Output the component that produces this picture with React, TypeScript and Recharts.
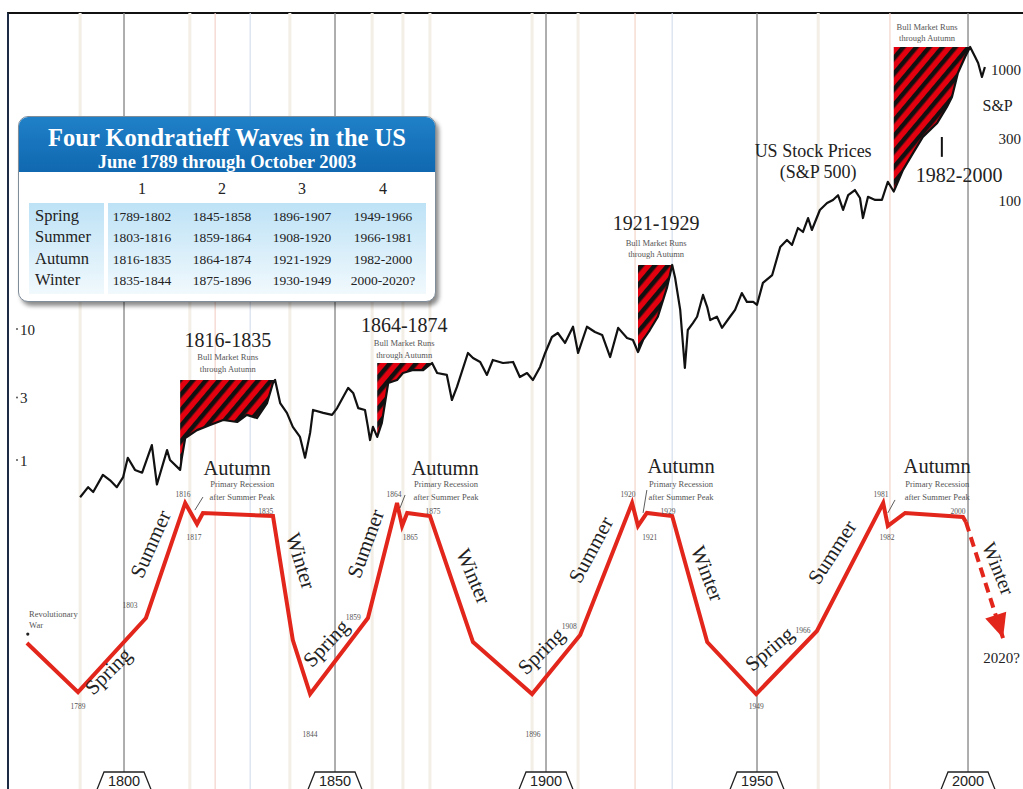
import React from 'react';
import {
  ComposedChart,
  Line,
  Area,
  XAxis,
  YAxis,
  ReferenceLine,
  ReferenceDot,
} from 'recharts';

const SERIF = '"Liberation Serif", "Times New Roman", serif';
const SANS = '"Liberation Sans", Arial, sans-serif';

// US stock prices (S&P 500 spliced back to 1789)
const STOCK_YEARS = [
  1789.6, 1791.5, 1792.7, 1795.0, 1796.7, 1798.3, 1799.8, 1800.9, 1802.6, 1804.3,
  1806.6, 1807.8, 1810.2, 1810.9, 1813.3, 1813.7, 1814.5, 1817.3, 1820.4, 1823.5,
  1826.8, 1829.1, 1831.5, 1833.9, 1835.3, 1835.8, 1837.0, 1838.6, 1840.0, 1841.7,
  1842.9, 1844.1, 1844.8, 1847.2, 1849.3, 1850.5, 1853.1, 1854.3, 1855.5, 1857.1,
  1857.8, 1858.3, 1859.0, 1860.0, 1861.1, 1862.6, 1864.7, 1866.1, 1868.5, 1870.9,
  1873.0, 1874.2, 1876.5, 1877.7, 1878.9, 1881.5, 1882.7, 1884.4, 1886.0, 1887.4,
  1889.8, 1892.2, 1893.8, 1895.5, 1896.9, 1898.6, 1899.8, 1901.4, 1902.8, 1904.5,
  1906.4, 1907.6, 1909.7, 1911.6, 1913.3, 1915.2, 1917.1, 1919.2, 1920.6, 1921.8,
  1923.0, 1924.6, 1926.5, 1928.7, 1929.9, 1930.6, 1931.8, 1932.5, 1932.9, 1933.6,
  1934.8, 1935.8, 1937.2, 1938.2, 1938.9, 1940.5, 1941.7, 1943.6, 1944.8, 1946.4,
  1947.6, 1949.1, 1950.0, 1951.4, 1953.6, 1955.5, 1957.1, 1958.3, 1959.7, 1960.9,
  1962.1, 1963.0, 1964.9, 1966.6, 1968.0, 1969.2, 1970.4, 1971.6, 1973.2, 1974.4,
  1975.1, 1976.3, 1978.0, 1979.6, 1981.0, 1982.4, 1984.6, 1987.0, 1989.3, 1992.7,
  1995.0, 1996.2, 1997.6, 1999.3, 2000.5, 2001.7, 2002.4, 2003.3, 2004.0,
];
const STOCK_PRICES = [
  0.52, 0.62, 0.57, 0.77, 0.7, 0.62, 0.74, 1.04, 0.84, 0.8,
  1.3, 0.65, 1.19, 1.0, 0.84, 1.04, 1.47, 1.69, 1.85, 2.02,
  1.95, 2.21, 2.09, 2.72, 3.87, 4.08, 2.72, 2.29, 1.79, 1.5,
  1.04, 1.61, 2.41, 2.29, 2.21, 2.49, 3.55, 3.25, 2.49, 2.41,
  1.79, 1.42, 1.79, 1.5, 1.92, 3.87, 4.08, 4.61, 4.86, 4.86,
  5.5, 4.61, 4.46, 2.87, 3.61, 6.56, 6.01, 5.6, 4.46, 5.8,
  5.5, 5.6, 4.3, 4.61, 4.08, 5.13, 6.56, 8.69, 9.32, 7.82,
  10.4, 6.56, 10.4, 9.49, 9.0, 6.11, 10.2, 8.54, 8.24, 6.67,
  8.24, 9.82, 12.4, 20.9, 30.8, 24.5, 14.0, 7.29, 5.04, 9.82,
  11.1, 12.4, 18.2, 14.7, 11.7, 12.4, 10.2, 12.4, 14.0, 18.8,
  16.1, 16.1, 15.3, 22.5, 25.8, 42.3, 47.8, 43.8, 59.0, 55.0,
  70.3, 57.0, 81.0, 91.6, 96.6, 105, 81.0, 105, 115, 100,
  70.3, 102, 96.6, 96.6, 133, 112, 164, 221, 292, 374,
  495, 590, 900, 1192, 1421, 1192, 1073, 839, 1000,
];

// bull markets running through autumn (hatched between price and its peak)
const BULL_FROM = [1813.3, 1860.0, 1921.8, 1982.4];
const BULL_TO = [1835.8, 1873.0, 1929.9, 2000.5];
const BULL_PEAK = [4.08, 5.5, 30.8, 1421];

// Kondratieff wave (stylised level, 0 = trough, 100 = summer peak)
const WAVE_YEARS = [
  1777.0, 1789.1, 1805.2, 1814.5, 1817.3, 1818.7, 1835.3, 1840.0, 1844.1, 1857.8,
  1864.7, 1865.9, 1867.1, 1872.5, 1882.7, 1896.7, 1908.1, 1920.4, 1921.8, 1923.9,
  1929.9, 1938.2, 1949.8, 1964.2, 1979.9, 1981.0, 1985.1, 1998.8, 1999.5,
];
const WAVE_LEVELS = [
  26.7, 1, 39.8, 100, 89, 94.8, 93.2, 28.3, 0, 39.8,
  100, 88, 94.8, 93.2, 27.2, 0, 30.9, 100, 88, 94.8,
  93.2, 27.2, 0, 33, 100, 88, 94.8, 92.7, 90.1,
];
const FORECAST_YEARS = [1999.5, 2008.3];
const FORECAST_LEVELS = [90.1, 29.3];

const DECADES = [1800, 1850, 1900, 1950, 2000];
const LEFT_TICKS = [1, 3, 10];
const RIGHT_TICKS = [100, 300, 1000];

const TABLE_SEASONS = ['Spring', 'Summer', 'Autumn', 'Winter'];
const TABLE_WAVE_NUMBERS = ['1', '2', '3', '4'];
const TABLE_PERIODS = [
  ['1789-1802', '1803-1816', '1816-1835', '1835-1844'],
  ['1845-1858', '1859-1864', '1864-1874', '1875-1896'],
  ['1896-1907', '1908-1920', '1921-1929', '1930-1949'],
  ['1949-1966', '1966-1981', '1982-2000', '2000-2020?'],
];

const X_DOMAIN = [1772.51, 2013.03];
const PRICE_DOMAIN = [0.003079, 2583];
const LEVEL_DOMAIN = [-49.7, 356.5];

type Note = {
  t: string[];
  yr: number;
  lv: number;
  fs: number;
  rot?: number;
  anchor?: 'start' | 'middle' | 'end';
  fill?: string;
  lh?: number;
};

const BULL_TEXT = ['Bull Market Runs', 'through Autumn'];
const RECESSION_TEXT = ['Primary Recession', 'after Summer Peak'];

const NOTES: Note[] = [
  { t: ['1816-1835'], yr: 1824.6, lv: 181.7, fs: 20 },
  { t: ['1864-1874'], yr: 1866.4, lv: 189.5, fs: 20 },
  { t: ['1921-1929'], yr: 1926.1, lv: 242.9, fs: 20 },
  { t: ['1982-2000'], yr: 1997.9, lv: 268.1, fs: 20 },
  { t: BULL_TEXT, yr: 1824.6, lv: 174.9, fs: 8.5, fill: '#555', lh: 12 },
  { t: BULL_TEXT, yr: 1866.4, lv: 182.2, fs: 8.5, fill: '#555', lh: 12 },
  { t: BULL_TEXT, yr: 1926.1, lv: 234.6, fs: 8.5, fill: '#555', lh: 11 },
  { t: BULL_TEXT, yr: 1990.3, lv: 347.6, fs: 8.5, fill: '#555', lh: 11 },
  { t: ['US Stock Prices'], yr: 1963.3, lv: 281.2, fs: 18 },
  { t: ['(S&P 500)'], yr: 1964.5, lv: 270.2, fs: 18 },
  { t: ['S&P'], yr: 2010.6, lv: 305.2, fs: 16, anchor: 'end' },
  { t: ['Autumn'], yr: 1826.8, lv: 114.7, fs: 20.5 },
  { t: ['Autumn'], yr: 1876.1, lv: 114.7, fs: 20.5 },
  { t: ['Autumn'], yr: 1932.0, lv: 115.7, fs: 20.5 },
  { t: ['Autumn'], yr: 1992.7, lv: 115.7, fs: 20.5 },
  { t: RECESSION_TEXT, yr: 1828.0, lv: 108.4, fs: 8.5, fill: '#555', lh: 13 },
  { t: RECESSION_TEXT, yr: 1876.3, lv: 108.4, fs: 8.5, fill: '#555', lh: 13 },
  { t: RECESSION_TEXT, yr: 1932.0, lv: 108.4, fs: 8.5, fill: '#555', lh: 13 },
  { t: RECESSION_TEXT, yr: 1992.7, lv: 108.4, fs: 8.5, fill: '#555', lh: 13 },
  { t: ['1816'], yr: 1814.0, lv: 103.4, fs: 7.5, fill: '#555' },
  { t: ['1817'], yr: 1816.6, lv: 80.9, fs: 7.5, fill: '#555' },
  { t: ['1835'], yr: 1833.6, lv: 94.5, fs: 7.5, fill: '#555' },
  { t: ['1864'], yr: 1864.0, lv: 103.4, fs: 7.5, fill: '#555' },
  { t: ['1865'], yr: 1867.8, lv: 80.9, fs: 7.5, fill: '#555' },
  { t: ['1875'], yr: 1873.2, lv: 94.5, fs: 7.5, fill: '#555' },
  { t: ['1920'], yr: 1919.4, lv: 103.4, fs: 7.5, fill: '#555' },
  { t: ['1921'], yr: 1924.6, lv: 80.4, fs: 7.5, fill: '#555' },
  { t: ['1929'], yr: 1928.9, lv: 94.5, fs: 7.5, fill: '#555' },
  { t: ['1981'], yr: 1979.4, lv: 103.4, fs: 7.5, fill: '#555' },
  { t: ['1982'], yr: 1980.8, lv: 80.4, fs: 7.5, fill: '#555' },
  { t: ['2000'], yr: 1997.6, lv: 94.5, fs: 7.5, fill: '#555' },
  { t: ['1789'], yr: 1789.1, lv: -7.6, fs: 7.5, fill: '#555' },
  { t: ['1803'], yr: 1801.4, lv: 44.8, fs: 7.5, fill: '#555' },
  { t: ['1844'], yr: 1844.1, lv: -22.3, fs: 7.5, fill: '#555' },
  { t: ['1859'], yr: 1854.3, lv: 39.0, fs: 7.5, fill: '#555' },
  { t: ['1896'], yr: 1896.9, lv: -22.3, fs: 7.5, fill: '#555' },
  { t: ['1908'], yr: 1905.5, lv: 34.3, fs: 7.5, fill: '#555' },
  { t: ['1949'], yr: 1949.8, lv: -7.6, fs: 7.5, fill: '#555' },
  { t: ['1966'], yr: 1960.9, lv: 32.2, fs: 7.5, fill: '#555' },
  { t: ['Revolutionary', 'War'], yr: 1777.5, lv: 40.3, fs: 8.5, fill: '#555', anchor: 'start', lh: 11 },
  { t: ['2020?'], yr: 2003.6, lv: 16.2, fs: 15, anchor: 'start' },
  { t: ['Spring'], yr: 1797.4, lv: 9.4, fs: 21, rot: -45 },
  { t: ['Spring'], yr: 1849.1, lv: 24.1, fs: 21, rot: -47 },
  { t: ['Spring'], yr: 1900.0, lv: 19.9, fs: 21, rot: -45 },
  { t: ['Spring'], yr: 1954.0, lv: 20.9, fs: 21, rot: -40 },
  { t: ['Summer'], yr: 1807.8, lv: 77.0, fs: 21, rot: -66 },
  { t: ['Summer'], yr: 1858.8, lv: 77.5, fs: 21, rot: -70 },
  { t: ['Summer'], yr: 1912.1, lv: 73.8, fs: 21, rot: -62 },
  { t: ['Summer'], yr: 1969.2, lv: 72.3, fs: 21, rot: -57 },
  { t: ['Winter'], yr: 1840.3, lv: 68.6, fs: 21, rot: 73 },
  { t: ['Winter'], yr: 1881.3, lv: 60.2, fs: 21, rot: 67 },
  { t: ['Winter'], yr: 1936.7, lv: 61.8, fs: 21, rot: 69 },
  { t: ['Winter'], yr: 2005.7, lv: 64.4, fs: 20, rot: 68 },
];

// little pointer strokes from "Primary Recession" to the dip
const POINTERS = [
  [1816.8, 96.3, 1818.7, 103.1],
  [1865.4, 97.4, 1866.6, 104.2],
  [1923.0, 94.8, 1923.9, 106.8],
  [1981.0, 94.8, 1982.7, 101.6],
];

const FAINT_LINES = [1789.6, 1815.6, 1839.3, 1858.8, 1866.1, 1872.5, 1896.7, 1907.6, 1964.5];
const PINK_LINES = [1821.6, 1921.1, 1981.5];
const BLUE_LINES = [1829.9, 1929.9];

const stockData = STOCK_YEARS.map((year, i) => ({ year, price: STOCK_PRICES[i] }));
const bullData = BULL_FROM.map((from, i) =>
  stockData
    .filter((d) => d.year >= from && d.year <= BULL_TO[i])
    .map((d) => ({ year: d.year, band: [d.price, BULL_PEAK[i]] }))
);
const waveData = WAVE_YEARS.map((year, i) => ({ year, level: WAVE_LEVELS[i] }));
const forecastData = FORECAST_YEARS.map((year, i) => ({ year, level: FORECAST_LEVELS[i] }));

const noteShape = (n: Note) => (p: any) => {
  const anchor = n.anchor || 'middle';
  const lh = n.lh || n.fs * 1.15;
  return (
    <text
      x={p.cx}
      y={p.cy}
      dy={n.rot !== undefined ? '0.35em' : 0}
      textAnchor={anchor}
      fontFamily={SERIF}
      fontSize={n.fs}
      fill={n.fill || '#222'}
      transform={n.rot !== undefined ? `rotate(${n.rot} ${p.cx} ${p.cy})` : undefined}
    >
      {n.t.map((s, i) => (
        <tspan key={i} x={p.cx} dy={i === 0 ? 0 : lh}>
          {s}
        </tspan>
      ))}
    </text>
  );
};

const LeftTick = (p: any) => (
  <g>
    <circle cx={p.x + 9} cy={p.y} r={1} fill="#555" />
    <text x={p.x + 12} y={p.y} dy="0.4em" fontFamily={SERIF} fontSize={15} fill="#222">
      {p.payload.value}
    </text>
  </g>
);

const RightTick = (p: any) => (
  <text x={p.x - 2} y={p.y} dy="0.55em" textAnchor="end" fontFamily={SERIF} fontSize={15} fill="#222">
    {p.payload.value}
  </text>
);

const DecadeLabel = (p: any) => {
  const vb = p.viewBox || {};
  const cx = vb.x;
  const b = vb.y + vb.height;
  return (
    <g>
      <path
        d={`M${cx - 28},${b + 3} L${cx - 20},${b - 17} L${cx + 20},${b - 17} L${cx + 28},${b + 3}`}
        fill="#fff"
        stroke="#222"
        strokeWidth={1.3}
      />
      <text x={cx} y={b - 3} textAnchor="middle" fontFamily={SANS} fontSize={14.5} fill="#222">
        {p.year}
      </text>
    </g>
  );
};

const ArrowHead = (p: any) => {
  if (p.index !== FORECAST_YEARS.length - 1) return <g key={p.index} />;
  return (
    <polygon
      key={p.index}
      points="0,0 -11,-24 11,-24"
      fill="#e2261c"
      transform={`translate(${p.cx} ${p.cy}) rotate(-17.7)`}
    />
  );
};

function KondratieffTable() {
  const colX = [123, 203, 283, 364];
  const labelTop = [89.4, 110.4, 132.4, 153.4];
  const cellTop = [90.4, 111.4, 133.4, 154.4];
  return (
    <div
      style={{
        position: 'absolute',
        left: 18,
        top: 116,
        width: 418,
        height: 186,
        boxSizing: 'border-box',
        borderRadius: 10,
        background: '#fff',
        border: '1px solid #7f8c99',
        boxShadow: '3px 4px 4px rgba(0,0,0,0.45)',
        overflow: 'hidden',
        fontFamily: SERIF,
        color: '#222',
      }}
    >
      <div
        style={{
          position: 'absolute',
          left: 0,
          top: 0,
          width: 418,
          height: 55,
          background: 'linear-gradient(#1f80c8, #1068b0)',
        }}
      />
      <div
        style={{
          position: 'absolute',
          left: 0,
          top: 6,
          width: 416,
          textAlign: 'center',
          color: '#fff',
          fontWeight: 'bold',
          fontSize: 24.5,
          lineHeight: '30px',
          whiteSpace: 'nowrap',
        }}
      >
        Four Kondratieff Waves in the US
      </div>
      <div
        style={{
          position: 'absolute',
          left: 0,
          top: 34,
          width: 416,
          textAlign: 'center',
          color: '#fff',
          fontWeight: 'bold',
          fontSize: 18.5,
          lineHeight: '22px',
          whiteSpace: 'nowrap',
        }}
      >
        June 1789 through October 2003
      </div>
      {TABLE_WAVE_NUMBERS.map((n, i) => (
        <div
          key={n}
          style={{
            position: 'absolute',
            left: colX[i] - 40,
            top: 62,
            width: 80,
            textAlign: 'center',
            fontSize: 16,
            lineHeight: '20px',
          }}
        >
          {n}
        </div>
      ))}
      <div
        style={{
          position: 'absolute',
          left: 10,
          top: 86,
          width: 75,
          height: 91,
          background: 'linear-gradient(#bde2f6, #f1f9fd)',
        }}
      />
      <div
        style={{
          position: 'absolute',
          left: 89,
          top: 86,
          width: 318,
          height: 91,
          background: 'linear-gradient(#bde2f6, #f1f9fd)',
        }}
      />
      {TABLE_SEASONS.map((s, r) => (
        <div
          key={s}
          style={{ position: 'absolute', left: 16, top: labelTop[r], fontSize: 16.5, lineHeight: '20px' }}
        >
          {s}
        </div>
      ))}
      {TABLE_PERIODS.map((col, c) =>
        col.map((txt, r) => (
          <div
            key={`${c}-${r}`}
            style={{
              position: 'absolute',
              left: colX[c] - 40,
              top: cellTop[r],
              width: 80,
              textAlign: 'center',
              fontSize: 13.5,
              lineHeight: '20px',
              whiteSpace: 'nowrap',
            }}
          >
            {txt}
          </div>
        ))
      )}
    </div>
  );
}

export default function App() {
  return (
    <div
      style={{
        position: 'absolute',
        left: 0,
        top: 0,
        width: 1023,
        height: 789,
        background: '#fff',
        overflow: 'hidden',
      }}
    >
      <div
        style={{
          position: 'absolute',
          left: 7,
          top: 12,
          width: 1040,
          height: 800,
          borderTop: '2px solid #111',
          borderLeft: '2px solid #1d2c44',
        }}
      />
      <div style={{ position: 'absolute', left: 0, top: 0 }}>
        <ComposedChart width={1023} height={789} margin={{ top: 13, left: 8, right: 0, bottom: 0 }}>
          <defs>
            <pattern
              id="bullHatch"
              patternUnits="userSpaceOnUse"
              width="10"
              height="10"
              patternTransform="rotate(40)"
            >
              <rect width="10" height="10" fill="#e3000f" />
              <rect width="4.5" height="10" fill="#111" />
            </pattern>
          </defs>
          <XAxis
            dataKey="year"
            type="number"
            domain={X_DOMAIN}
            allowDataOverflow
            hide
          />
          <YAxis
            yAxisId="price"
            type="number"
            scale="log"
            domain={PRICE_DOMAIN}
            allowDataOverflow
            ticks={LEFT_TICKS}
            mirror
            axisLine={false}
            tickLine={false}
            tickSize={0}
            tickMargin={0}
            tick={<LeftTick />}
          />
          <YAxis
            yAxisId="right"
            orientation="right"
            type="number"
            scale="log"
            domain={PRICE_DOMAIN}
            allowDataOverflow
            ticks={RIGHT_TICKS}
            mirror
            axisLine={false}
            tickLine={false}
            tickSize={0}
            tickMargin={0}
            tick={<RightTick />}
          />
          <YAxis yAxisId="level" type="number" domain={LEVEL_DOMAIN} allowDataOverflow hide />

          {FAINT_LINES.map((y) => (
            <ReferenceLine key={`f${y}`} x={y} yAxisId="level" stroke="#f3eee6" strokeWidth={3} zIndex={-60} />
          ))}
          {PINK_LINES.map((y) => (
            <ReferenceLine key={`p${y}`} x={y} yAxisId="level" stroke="#f4d3ca" strokeWidth={1.2} zIndex={-60} />
          ))}
          {BLUE_LINES.map((y) => (
            <ReferenceLine key={`b${y}`} x={y} yAxisId="level" stroke="#d6e0ee" strokeWidth={1.2} zIndex={-60} />
          ))}
          {DECADES.map((d) => (
            <ReferenceLine
              key={`d${d}`}
              x={d}
              yAxisId="level"
              stroke="#8c8c8c"
              strokeWidth={1.4}
              zIndex={-50}
              label={<DecadeLabel year={d} />}
            />
          ))}

          {bullData.map((data, i) => (
            <Area
              key={`bull${i}`}
              data={data}
              yAxisId="price"
              dataKey="band"
              type="linear"
              stroke="none"
              fill="url(#bullHatch)"
              fillOpacity={1}
              isAnimationActive={false}
            />
          ))}

          <Line
            data={stockData}
            yAxisId="price"
            dataKey="price"
            type="linear"
            stroke="#111"
            strokeWidth={2.2}
            strokeLinejoin="round"
            dot={false}
            isAnimationActive={false}
          />

          <Line
            data={waveData}
            yAxisId="level"
            dataKey="level"
            type="linear"
            stroke="#e2261c"
            strokeWidth={4}
            strokeLinejoin="miter"
            dot={false}
            isAnimationActive={false}
          />
          <Line
            data={forecastData}
            yAxisId="level"
            dataKey="level"
            type="linear"
            stroke="#e2261c"
            strokeWidth={4}
            strokeDasharray="10 6"
            dot={ArrowHead}
            isAnimationActive={false}
          />

          {POINTERS.map((s, i) => (
            <ReferenceLine
              key={`ptr${i}`}
              yAxisId="level"
              segment={[
                { x: s[0], y: s[1] },
                { x: s[2], y: s[3] },
              ]}
              stroke="#333"
              strokeWidth={0.8}
            />
          ))}
          <ReferenceLine
            yAxisId="level"
            segment={[
              { x: 1993.8, y: 291.6 },
              { x: 1993.8, y: 281.2 },
            ]}
            stroke="#111"
            strokeWidth={2}
          />
          <ReferenceDot x={1777.2} y={31.4} yAxisId="level" r={1.6} fill="#222" stroke="none" />

          {NOTES.map((n, i) => (
            <ReferenceDot
              key={`n${i}`}
              x={n.yr}
              y={n.lv}
              yAxisId="level"
              r={0}
              ifOverflow="visible"
              shape={noteShape(n)}
            />
          ))}
        </ComposedChart>
      </div>
      <KondratieffTable />
    </div>
  );
}
